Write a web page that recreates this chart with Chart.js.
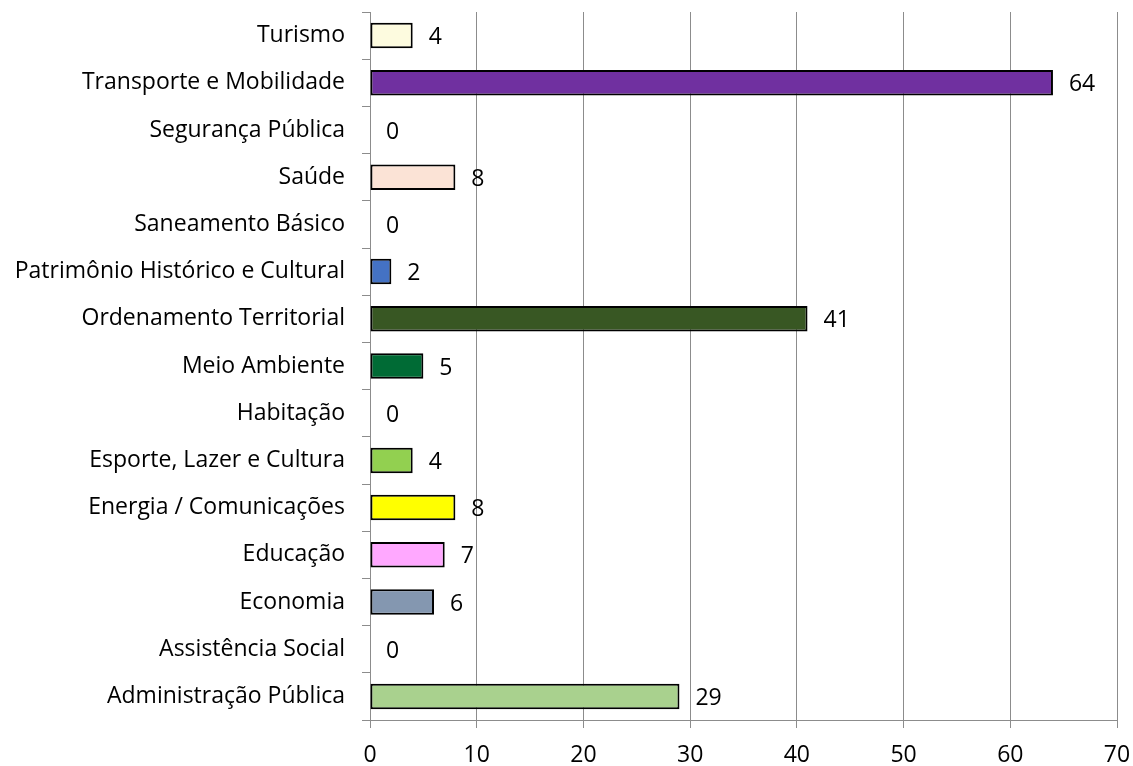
<!DOCTYPE html>
<html>
<head>
<meta charset="utf-8">
<script src="https://cdn.jsdelivr.net/npm/chart.js@4/dist/chart.umd.min.js"></script>
<style>
html,body{margin:0;padding:0;background:#fff;}
#wrap{width:1133px;height:766px;position:relative;}
</style>
</head>
<body>
<div id="wrap"><canvas id="c" width="1133" height="766"></canvas></div>
<script>
const categories = [
  "Turismo",
  "Transporte e Mobilidade",
  "Segurança Pública",
  "Saúde",
  "Saneamento Básico",
  "Patrimônio Histórico e Cultural",
  "Ordenamento Territorial",
  "Meio Ambiente",
  "Habitação",
  "Esporte, Lazer e Cultura",
  "Energia / Comunicações",
  "Educação",
  "Economia",
  "Assistência Social",
  "Administração Pública"
];
const values = [4, 64, 0, 8, 0, 2, 41, 5, 0, 4, 8, 7, 6, 0, 29];
const barColors = [
  "#FDFBDF", "#7030A0", "#FFFFFF", "#FBE3D6", "#FFFFFF",
  "#4472C4", "#385723", "#006B35", "#FFFFFF", "#92D050",
  "#FFFF00", "#FFA8FF", "#8497B0", "#FFFFFF", "#A9D18E"
];
const xTicks = [0, 10, 20, 30, 40, 50, 60, 70];

const FONT = "'Open Sans', Lato, sans-serif";
const FSIZE = 23;

const valueLabels = {
  id: 'valueLabels',
  afterDatasetsDraw(chart) {
    const ctx = chart.ctx;
    const meta = chart.getDatasetMeta(0);
    ctx.save();
    ctx.font = FSIZE + "px " + FONT;
    ctx.fillStyle = "#000";
    ctx.textAlign = "left";
    ctx.textBaseline = "middle";
    meta.data.forEach((el, i) => {
      ctx.fillText(String(values[i]), el.x + 16, el.y + 2);
    });
    ctx.restore();
  }
};

new Chart(document.getElementById('c'), {
  type: 'bar',
  data: {
    labels: categories,
    datasets: [{
      data: values,
      backgroundColor: barColors,
      borderColor: "#000",
      borderWidth: (c) => (c.raw === 0 ? 0 : 2),
      borderSkipped: false,
      barPercentage: 0.54,
      categoryPercentage: 1
    }]
  },
  options: {
    indexAxis: 'y',
    responsive: false,
    animation: false,
    devicePixelRatio: 1,
    layout: { padding: { top: 12, right: 16, bottom: 0, left: 0 } },
    plugins: { legend: { display: false }, tooltip: { enabled: false } },
    scales: {
      x: {
        min: 0, max: 70,
        afterBuildTicks: (s) => { s.ticks = xTicks.map(v => ({ value: v })); },
        afterFit: (s) => { s.height = 46; s.paddingRight = 0; s.paddingLeft = 0; },
        border: { color: "#8C8C8C", width: 1 },
        grid: { color: "#8C8C8C", lineWidth: 1, tickLength: 8, tickColor: "#8C8C8C" },
        ticks: { color: "#000", font: { family: FONT, size: FSIZE }, padding: 14, maxRotation: 0 }
      },
      y: {
        afterFit: (s) => { s.width = 370; s.paddingTop = 0; s.paddingBottom = 0; },
        border: { color: "#8C8C8C", width: 1 },
        grid: { drawOnChartArea: false, offset: true, tickLength: 8, tickColor: "#8C8C8C" },
        ticks: { color: "#000", font: { family: FONT, size: FSIZE }, padding: 17, autoSkip: false }
      }
    }
  },
  plugins: [valueLabels]
});
</script>
</body>
</html>
